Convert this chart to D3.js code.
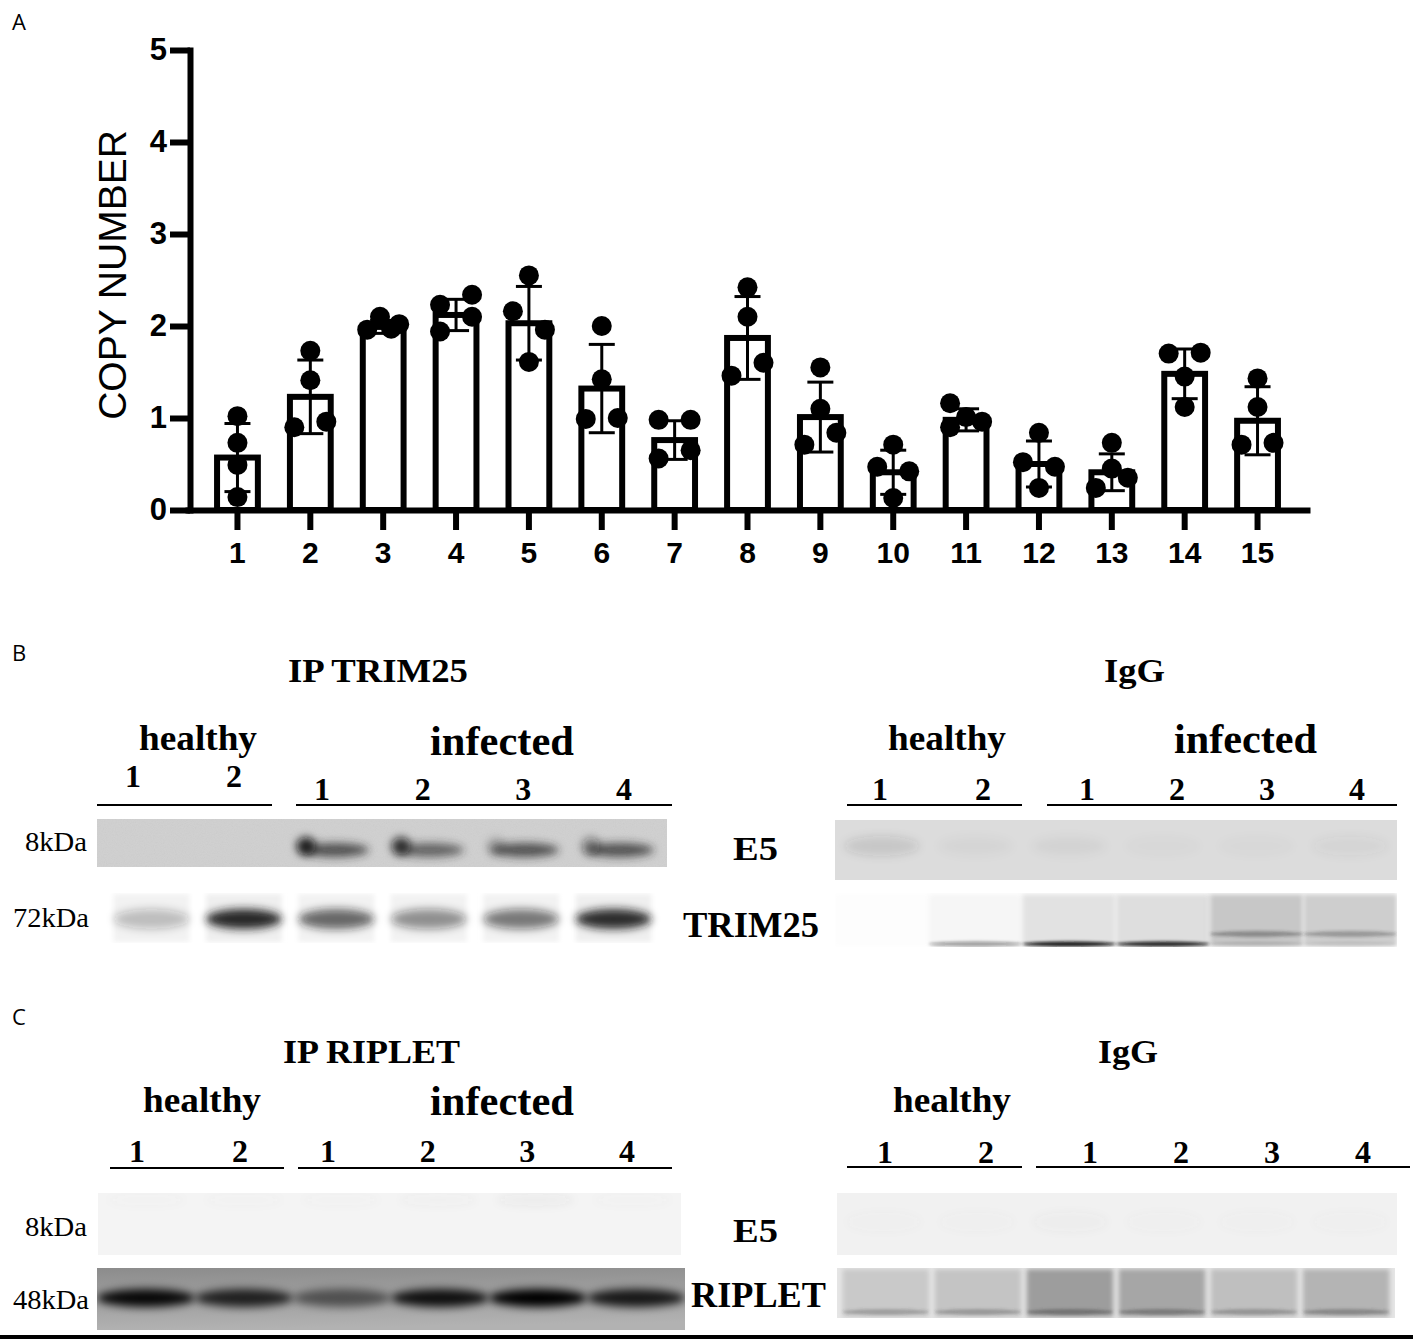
<!DOCTYPE html>
<html>
<head>
<meta charset="utf-8">
<script src="https://cdn.jsdelivr.net/npm/d3@7"></script>
<style>
  body { margin: 0; background: #fff; }
  svg { display: block; }
</style>
</head>
<body>
<div id="fig"></div>
<script>
// ---- panel A: copy number ----
var categories = ['1', '2', '3', '4', '5', '6', '7', '8', '9', '10', '11', '12', '13', '14', '15'];
var means = [0.57, 1.23, 1.99, 2.12, 2.03, 1.32, 0.76, 1.87, 1.01, 0.41, 0.98, 0.50, 0.41, 1.48, 0.97];
var sds = [0.37, 0.40, 0.07, 0.17, 0.40, 0.48, 0.21, 0.45, 0.38, 0.24, 0.12, 0.25, 0.20, 0.27, 0.37];
var points = [
  [1.02, 0.73, 0.49, 0.14],
  [1.73, 1.41, 0.90, 0.96],
  [1.96, 2.10, 1.97, 2.02],
  [2.23, 2.34, 2.10, 1.94],
  [2.55, 2.16, 1.96, 1.61],
  [2.00, 1.42, 0.99, 1.00],
  [0.98, 0.98, 0.56, 0.65],
  [2.42, 2.10, 1.46, 1.60],
  [1.55, 1.10, 0.71, 0.84],
  [0.71, 0.47, 0.42, 0.13],
  [1.16, 1.01, 0.90, 0.96],
  [0.84, 0.52, 0.47, 0.24],
  [0.73, 0.45, 0.35, 0.24],
  [1.70, 1.71, 1.45, 1.12],
  [1.43, 1.12, 0.71, 0.73]
];
// scatter column of each point (-1 left, 0 centre, 1 right)
var jitter = [
  [0, 0, 0, 0], [0, 0, -1, 1], [-1, -0.2, 0.5, 1], [-1, 1, 1, -1], [0, -1, 1, 0],
  [0, 0, -1, 1], [-1, 1, -1, 1], [0, 0, -1, 1], [0, 0, -1, 1], [0, -1, 1, 0],
  [-1, 0, -1, 1], [0, -1, 1, 0], [0, 0, 1, -1], [-1, 1, 0, 0], [0, 0, -1, 1]
];
var yTicks = [0, 1, 2, 3, 4, 5];

// ---- panels B and C: blots (band darkness 0..1 per lane) ----
var laneNames = ['1', '2', '1', '2', '3', '4'];
var laneGroups = ['healthy', 'healthy', 'infected', 'infected', 'infected', 'infected'];
var ipTrimE5 = [0, 0, 0.75, 0.65, 0.75, 0.75];
var ipTrimE5Left = [0, 0, 0.9, 0.8, 0.2, 0.4];
var ipTrimTRIM25 = [0.25, 0.95, 0.65, 0.45, 0.55, 0.9];
var igTrimE5 = [0.12, 0.03, 0.04, 0.02, 0.02, 0.05];
var igTrimLaneBg = [0.02, 0.07, 0.2, 0.22, 0.33, 0.3];
var igTrimLow = [0, 0.4, 0.95, 0.9, 0.15, 0.1];
var igTrimHigh = [0, 0, 0, 0, 0.4, 0.35];
var ipRipE5 = [0.02, 0.02, 0.02, 0.03, 0.05, 0.02];
var ipRipRIPLET = [0.95, 0.8, 0.5, 0.9, 1.0, 0.85];
var igRipE5 = [0.02, 0.02, 0.03, 0.02, 0.02, 0.02];
var igRipRIPLET = [0.32, 0.34, 0.48, 0.45, 0.36, 0.4];

var svg = d3.select('#fig').append('svg').attr('width', 1413).attr('height', 1340);
var defs = svg.append('defs');
var SANS = 'Liberation Sans, Arial, sans-serif';
var SERIF = 'Liberation Serif, Times New Roman, serif';

// ===== panel A =====
var x = d3.scaleBand().domain(categories).range([185, 1310]).padding(0.44);
var y = d3.scaleLinear().domain([0, 5]).range([510, 50]);
var jx = d3.scaleLinear().domain([-1, 1]).range([-16, 16]);
var cx = function (i) { return x(categories[i]) + x.bandwidth() / 2; };

var gA = svg.append('g');

gA.selectAll('rect.bar')
  .data(means)
  .enter()
    .append('rect')
    .attr('class', 'bar')
    .attr('x', (d, i) => x(categories[i]))
    .attr('y', d => y(d))
    .attr('width', x.bandwidth())
    .attr('height', d => y(0) - y(d))
    .attr('fill', '#fff')
    .attr('stroke', '#000')
    .attr('stroke-width', 6);

// error bars (mean +/- SD)
var err = gA.selectAll('g.err')
  .data(means)
  .enter()
    .append('g')
    .attr('class', 'err')
    .attr('stroke', '#000')
    .attr('stroke-width', 3);
err.append('line')
  .attr('x1', (d, i) => cx(i)).attr('x2', (d, i) => cx(i))
  .attr('y1', (d, i) => y(d + sds[i])).attr('y2', (d, i) => y(d - sds[i]));
err.append('line')
  .attr('x1', (d, i) => cx(i) - 13).attr('x2', (d, i) => cx(i) + 13)
  .attr('y1', (d, i) => y(d + sds[i])).attr('y2', (d, i) => y(d + sds[i]));
err.append('line')
  .attr('x1', (d, i) => cx(i) - 13).attr('x2', (d, i) => cx(i) + 13)
  .attr('y1', (d, i) => y(d - sds[i])).attr('y2', (d, i) => y(d - sds[i]));

// individual points
var dots = [];
points.forEach(function (arr, i) {
  arr.forEach(function (v, j) { dots.push({ i: i, v: v, j: jitter[i][j] }); });
});
gA.selectAll('circle.pt')
  .data(dots)
  .enter()
    .append('circle')
    .attr('class', 'pt')
    .attr('cx', d => cx(d.i) + jx(d.j))
    .attr('cy', d => y(d.v))
    .attr('r', 10)
    .attr('fill', '#000');

var yAxis = gA.append('g')
  .attr('transform', 'translate(190,0)')
  .call(d3.axisLeft(y).tickValues(yTicks).tickFormat(d3.format('d'))
    .tickSize(20).tickSizeOuter(0).tickPadding(3))
  .attr('font-size', 31)
  .attr('font-family', SANS)
  .attr('font-weight', 'bold');
yAxis.select('.domain').attr('stroke-width', 6).attr('stroke-linecap', 'square');
yAxis.selectAll('.tick line').attr('stroke-width', 6);
yAxis.selectAll('.tick text').attr('fill', '#000');

var xAxis = gA.append('g')
  .attr('transform', 'translate(0,510)')
  .call(d3.axisBottom(x).tickSize(20).tickSizeOuter(0).tickPadding(12))
  .attr('font-size', 30)
  .attr('font-family', SANS)
  .attr('font-weight', 'bold');
xAxis.select('.domain').attr('stroke-width', 6);
xAxis.selectAll('.tick line').attr('stroke-width', 6);
xAxis.selectAll('.tick text').attr('fill', '#000');

gA.append('text')
  .attr('transform', 'translate(112,275) rotate(-90)')
  .attr('text-anchor', 'middle')
  .attr('dominant-baseline', 'central')
  .attr('font-family', SANS)
  .attr('font-size', 39)
  .text('COPY NUMBER');

// panel letters
[['A', 30], ['B', 661], ['C', 1025]].forEach(function (p) {
  svg.append('text')
    .attr('x', 12).attr('y', p[1])
    .attr('font-family', 'Open Sans, sans-serif')
    .attr('font-size', 22)
    .text(p[0]);
});

// ===== blots =====
defs.append('filter').attr('id', 'soft')
  .attr('x', '-50%').attr('y', '-200%').attr('width', '200%').attr('height', '500%')
  .append('feGaussianBlur').attr('stdDeviation', 4);
defs.append('filter').attr('id', 'thin')
  .attr('x', '-50%').attr('y', '-300%').attr('width', '200%').attr('height', '700%')
  .append('feGaussianBlur').attr('stdDeviation', 1.8);
defs.append('filter').attr('id', 'edge')
  .attr('x', '-20%').attr('y', '-20%').attr('width', '140%').attr('height', '140%')
  .append('feGaussianBlur').attr('stdDeviation', 2.5);
var grain = defs.append('filter').attr('id', 'grain');
grain.append('feTurbulence').attr('type', 'fractalNoise').attr('baseFrequency', 0.9).attr('numOctaves', 2).attr('seed', 4);
grain.append('feColorMatrix').attr('type', 'saturate').attr('values', 0);
grain.append('feComposite').attr('in2', 'SourceGraphic').attr('operator', 'in');

var ripGrad = defs.append('linearGradient').attr('id', 'ripbg')
  .attr('x1', 0).attr('y1', 0).attr('x2', 0.15).attr('y2', 1);
ripGrad.append('stop').attr('offset', 0).attr('stop-color', '#8c8c8c');
ripGrad.append('stop').attr('offset', 1).attr('stop-color', '#b2b2b2');

var clipN = 0;
function strip(cfg) {
  var id = 'clip' + (clipN++);
  defs.append('clipPath').attr('id', id)
    .append('rect')
      .attr('x', cfg.x0).attr('y', cfg.y0)
      .attr('width', cfg.x1 - cfg.x0).attr('height', cfg.y1 - cfg.y0);
  var lane = d3.scaleBand().domain(d3.range(6)).range([cfg.x0, cfg.x1]).padding(cfg.pad || 0);
  var body = svg.append('g').attr('clip-path', 'url(#' + id + ')');
  if (cfg.bg) {
    body.append('rect')
      .attr('x', cfg.x0).attr('y', cfg.y0)
      .attr('width', cfg.x1 - cfg.x0).attr('height', cfg.y1 - cfg.y0)
      .attr('fill', cfg.bg);
  }
  if (cfg.grain) {
    body.append('rect')
      .attr('x', cfg.x0).attr('y', cfg.y0)
      .attr('width', cfg.x1 - cfg.x0).attr('height', cfg.y1 - cfg.y0)
      .attr('fill', '#000')
      .attr('filter', 'url(#grain)')
      .attr('opacity', cfg.grain);
  }
  if (cfg.laneBg) {
    body.selectAll(null)
      .data(cfg.laneBg)
      .enter()
        .append('rect')
        .attr('x', (d, i) => lane(i))
        .attr('y', cfg.y0 + 1)
        .attr('width', lane.bandwidth())
        .attr('height', cfg.y1 - cfg.y0 - 2)
        .attr('fill', d => d3.interpolateGreys(d))
        .attr('filter', 'url(#edge)');
  }
  (cfg.bands || []).forEach(function (b) {
    body.selectAll(null)
      .data(b.values)
      .enter()
        .append('ellipse')
        .attr('cx', (d, i) => lane(i) + lane.bandwidth() * (b.at == null ? 0.5 : b.at))
        .attr('cy', b.y)
        .attr('rx', lane.bandwidth() * (b.w || 0.42))
        .attr('ry', b.h)
        .attr('fill', b.color || '#111')
        .attr('fill-opacity', d => d)
        .attr('filter', 'url(#' + (b.blur || 'soft') + ')');
  });
}

function label(txt, x0, x1, base, size, weight) {
  svg.append('text')
    .attr('x', x0).attr('y', base)
    .attr('textLength', x1 - x0)
    .attr('lengthAdjust', 'spacingAndGlyphs')
    .attr('font-family', SERIF)
    .attr('font-size', size)
    .attr('font-weight', weight || 'bold')
    .text(txt);
}

// lane numbers and the lines under them
function lanes(h, inf, baseH, baseI, lineY, lineH, lineI) {
  var hs = d3.scalePoint().domain(['1', '2']).range(h);
  var is = d3.scalePoint().domain(['1', '2', '3', '4']).range(inf);
  svg.append('g')
    .selectAll('text')
    .data(laneNames)
    .enter()
      .append('text')
      .attr('x', (d, i) => laneGroups[i] === 'healthy' ? hs(d) : is(d))
      .attr('y', (d, i) => laneGroups[i] === 'healthy' ? baseH : baseI)
      .attr('text-anchor', 'middle')
      .attr('font-family', SERIF)
      .attr('font-size', 32)
      .attr('font-weight', 'bold')
      .text(d => d);
  [lineH, lineI].forEach(function (l) {
    svg.append('line')
      .attr('x1', l[0]).attr('x2', l[1])
      .attr('y1', lineY).attr('y2', lineY)
      .attr('stroke', '#000').attr('stroke-width', 2);
  });
}

// --- B ---
label('IP TRIM25', 288, 468, 682, 34);
label('healthy', 139, 257, 750, 36);
label('infected', 430, 574, 755, 42);
lanes([133, 234], [322, 624], 787, 800, 805, [97, 272], [296, 672]);
label('IgG', 1104, 1165, 682, 34);
label('healthy', 888, 1006, 750, 36);
label('infected', 1174, 1317, 753, 42);
lanes([880, 983], [1087, 1357], 800, 800, 805, [847, 1022], [1047, 1397]);

strip({ x0: 97, x1: 667, y0: 819, y1: 867, bg: '#d0d0d0', grain: 0.1,
  bands: [
    { y: 850, h: 7, w: 0.36, values: ipTrimE5, color: '#2a2a2a' },
    { y: 846, h: 9, w: 0.1, at: 0.2, values: ipTrimE5Left, color: '#111' }
  ] });
strip({ x0: 97, x1: 668, y0: 893, y1: 943, pad: 0.18, laneBg: [0.1, 0.12, 0.1, 0.1, 0.1, 0.12],
  bands: [{ y: 919, h: 10, w: 0.5, values: ipTrimTRIM25, color: '#1a1a1a' }] });
strip({ x0: 835, x1: 1397, y0: 820, y1: 880, bg: '#dcdcdc',
  bands: [{ y: 846, h: 10, w: 0.4, values: igTrimE5, color: '#333' }] });
strip({ x0: 835, x1: 1397, y0: 893, y1: 947, laneBg: igTrimLaneBg,
  bands: [
    { y: 944, h: 2.5, w: 0.5, values: igTrimLow, color: '#111', blur: 'thin' },
    { y: 934, h: 3, w: 0.5, values: igTrimHigh, color: '#333', blur: 'thin' }
  ] });

label('8kDa', 25, 87, 851, 27, 'normal');
label('72kDa', 13, 89, 927, 28, 'normal');
label('E5', 733, 778, 860, 34);
label('TRIM25', 683, 819, 937, 36);

// --- C ---
label('IP RIPLET', 283, 460, 1063, 34);
label('healthy', 143, 261, 1112, 36);
label('infected', 430, 574, 1115, 42);
lanes([137, 240], [328, 627], 1162, 1162, 1168, [110, 284], [298, 672]);
label('IgG', 1098, 1158, 1063, 34);
label('healthy', 893, 1011, 1112, 36);
lanes([885, 986], [1090, 1363], 1163, 1163, 1167, [847, 1022], [1036, 1410]);

strip({ x0: 98, x1: 681, y0: 1193, y1: 1255, bg: '#f4f4f4',
  bands: [{ y: 1200, h: 6, w: 0.4, values: ipRipE5, color: '#555' }] });
strip({ x0: 97, x1: 685, y0: 1268, y1: 1330, bg: 'url(#ripbg)',
  bands: [{ y: 1298, h: 9, w: 0.5, values: ipRipRIPLET, color: '#000' }] });
strip({ x0: 837, x1: 1397, y0: 1193, y1: 1255, bg: '#f1f1f1',
  bands: [{ y: 1222, h: 10, w: 0.4, values: igRipE5, color: '#555' }] });
strip({ x0: 837, x1: 1395, y0: 1268, y1: 1318, bg: '#e6e6e6', pad: 0.06, laneBg: igRipRIPLET,
  bands: [{ y: 1312, h: 3, w: 0.5, values: igRipRIPLET, color: '#444', blur: 'thin' }] });

label('8kDa', 25, 87, 1236, 27, 'normal');
label('48kDa', 13, 89, 1309, 28, 'normal');
label('E5', 733, 778, 1242, 34);
label('RIPLET', 691, 826, 1307, 36);

svg.append('line')
  .attr('x1', 0).attr('x2', 1413)
  .attr('y1', 1337).attr('y2', 1337)
  .attr('stroke', '#000').attr('stroke-width', 4);
</script>
</body>
</html>
